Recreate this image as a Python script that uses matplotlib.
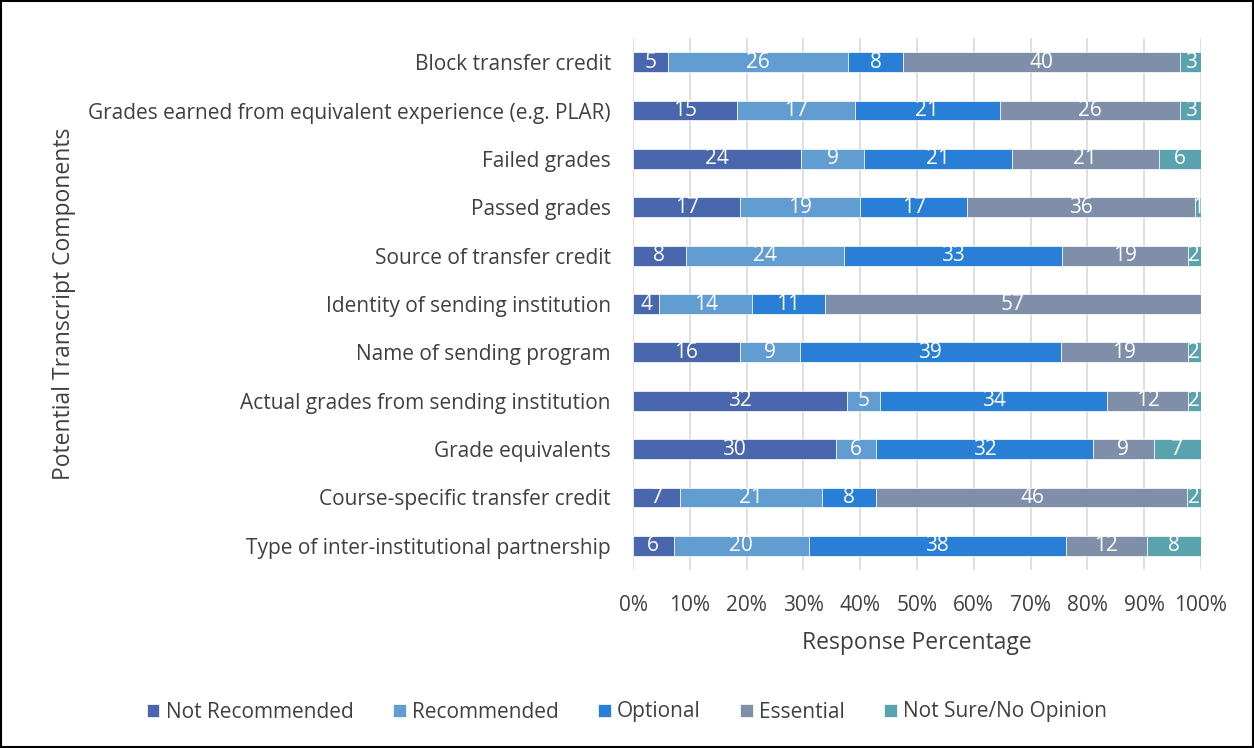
import matplotlib.pyplot as plt
import numpy as np

plt.rcParams['font.family'] = ['Open Sans', 'DejaVu Sans']

categories = [
    'Block transfer credit',
    'Grades earned from equivalent experience (e.g. PLAR)',
    'Failed grades',
    'Passed grades',
    'Source of transfer credit',
    'Identity of sending institution',
    'Name of sending program',
    'Actual grades from sending institution',
    'Grade equivalents',
    'Course-specific transfer credit',
    'Type of inter-institutional partnership',
]
series_names = ['Not Recommended', 'Recommended', 'Optional', 'Essential', 'Not Sure/No Opinion']
not_recommended = [5, 15, 24, 17, 8, 4, 16, 32, 30, 7, 6]
recommended = [26, 17, 9, 19, 24, 14, 9, 5, 6, 21, 20]
optional = [8, 21, 21, 17, 33, 11, 39, 34, 32, 8, 38]
essential = [40, 26, 21, 36, 19, 57, 19, 12, 9, 46, 12]
not_sure = [3, 3, 6, 1, 2, 0, 2, 2, 7, 2, 8]
colors = ['#4A66AC', '#629DD1', '#297FD5', '#7F8FA9', '#5AA2AE']

counts = np.array([not_recommended, recommended, optional, essential, not_sure], dtype=float)
totals = counts.sum(axis=0)
shares = counts / totals

fig = plt.figure(figsize=(12.54, 7.48), dpi=100)
ax = fig.add_axes([633/1254, 1 - 570/748, 568/1254, 532/748])

y = np.arange(len(categories))
left = np.zeros(len(categories))
for k in range(len(series_names)):
    ax.barh(y, shares[k], left=left, height=0.41, color=colors[k],
            label=series_names[k], zorder=3, edgecolor='white', linewidth=0.5)
    for i in range(len(categories)):
        if counts[k, i] > 0:
            ax.text(left[i] + shares[k, i] / 2, y[i], str(int(counts[k, i])),
                    ha='center', va='center', color='white', fontsize=15, zorder=4)
    left += shares[k]

ax.set_ylim(len(categories) - 0.5, -0.5)
ax.set_xlim(0, 1)
ax.set_yticks(y)
ax.set_yticklabels(categories, fontsize=15, color='#404040')
ax.set_xticks(np.arange(0, 1.01, 0.1))
ax.set_xticklabels([f'{int(round(v*100))}%' for v in np.arange(0, 1.01, 0.1)],
                   fontsize=15, color='#404040')
ax.tick_params(axis='y', length=0, pad=16)
ax.tick_params(axis='x', length=0, pad=18)
ax.xaxis.grid(True, color='#D9D9D9', linewidth=1.2, zorder=0)
for s in ax.spines.values():
    s.set_visible(False)
ax.set_xlabel('Response Percentage', fontsize=16.5, color='#404040', labelpad=11)
ax.set_ylabel('Potential Transcript Components', fontsize=16.5, color='#404040')
ax.yaxis.set_label_coords(-0.98, 0.5)

fig.legend(loc='center', bbox_to_anchor=(0.5, 1 - 712/748), ncol=5, frameon=False,
           fontsize=15, handlelength=0.6, handleheight=0.6, handletextpad=0.3,
           columnspacing=1.9, labelcolor='#404040')

fig.add_artist(plt.Rectangle((0.001, 0.001), 0.998, 0.998, transform=fig.transFigure,
                             fill=False, edgecolor='black', linewidth=1.5))

fig.savefig('out.png', dpi=100)
